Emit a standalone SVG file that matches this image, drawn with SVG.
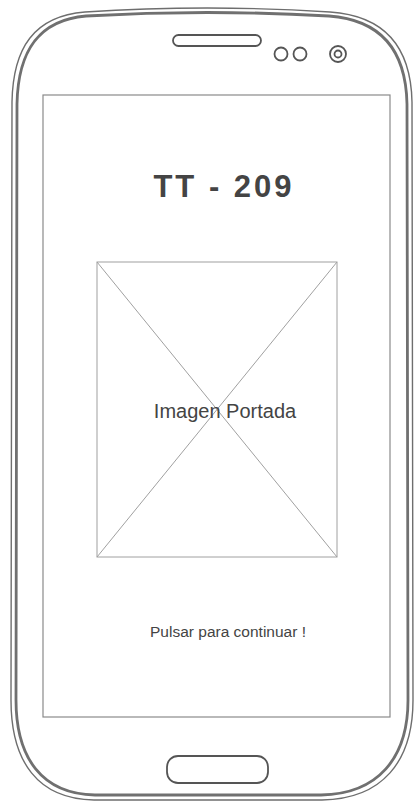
<svg xmlns="http://www.w3.org/2000/svg" width="414" height="802" viewBox="0 0 414 802">
<style>
.body-thin{fill:none;stroke:#6e6e6e;stroke-width:1.4}
.body-thick{fill:none;stroke:#707070;stroke-width:2.8}
.hw{fill:none;stroke:#555;stroke-width:1.8}
.box{fill:none;stroke:#8a8a8a;stroke-width:1.2}
.ph{fill:none;stroke:#a0a0a0;stroke-width:1}
.txt{font-family:"Liberation Sans","DejaVu Sans",sans-serif;fill:#444;text-anchor:middle}
</style>
<rect width="414" height="802" fill="#fff"/>
<g id="phone">
  <path class="body-thin" d="M 85,12 Q 207,4 330,12 C 388,16 411,50 412,102 L 413,700 C 413,762 382,799 322,800 L 94,800 C 38,799 11,762 11,700 L 12,102 C 13,48 34,16 85,12 Z"/>
  <path class="body-thick" d="M 86,16 Q 207,9 329,16 C 383,20 406,52 407,104 L 408,700 C 408,758 378,794 321,795 L 95,795 C 42,794 16,758 16,700 L 17,104 C 18,52 38,20 86,16 Z"/>
</g>
<g id="speaker"><rect class="hw" x="173" y="35" width="88" height="11" rx="5.5"/></g>
<g id="sensors">
  <circle class="hw" cx="281" cy="54" r="6.5"/>
  <circle class="hw" cx="300" cy="54" r="6.5"/>
</g>
<g id="camera">
  <circle class="hw" cx="338" cy="54" r="8"/>
  <circle class="hw" cx="338" cy="54" r="3.5"/>
</g>
<g id="screen"><rect class="box" x="43" y="95" width="347" height="622"/></g>
<g id="title"><text class="txt" x="224" y="197" font-size="31" font-weight="bold" fill="#333" letter-spacing="3">TT - 209</text></g>
<g id="image-placeholder">
  <rect class="ph" x="97" y="262" width="240" height="295"/>
  <line class="ph" x1="97" y1="262" x2="337" y2="557"/>
  <line class="ph" x1="337" y1="262" x2="97" y2="557"/>
  <text class="txt" x="225" y="418" font-size="20">Imagen Portada</text>
</g>
<g id="continue"><text class="txt" x="228" y="637" font-size="15.5">Pulsar para continuar !</text></g>
<g id="home-button"><rect class="hw" x="167" y="756" width="101" height="27" rx="11"/></g>
<g id="connectors"/>
</svg>
